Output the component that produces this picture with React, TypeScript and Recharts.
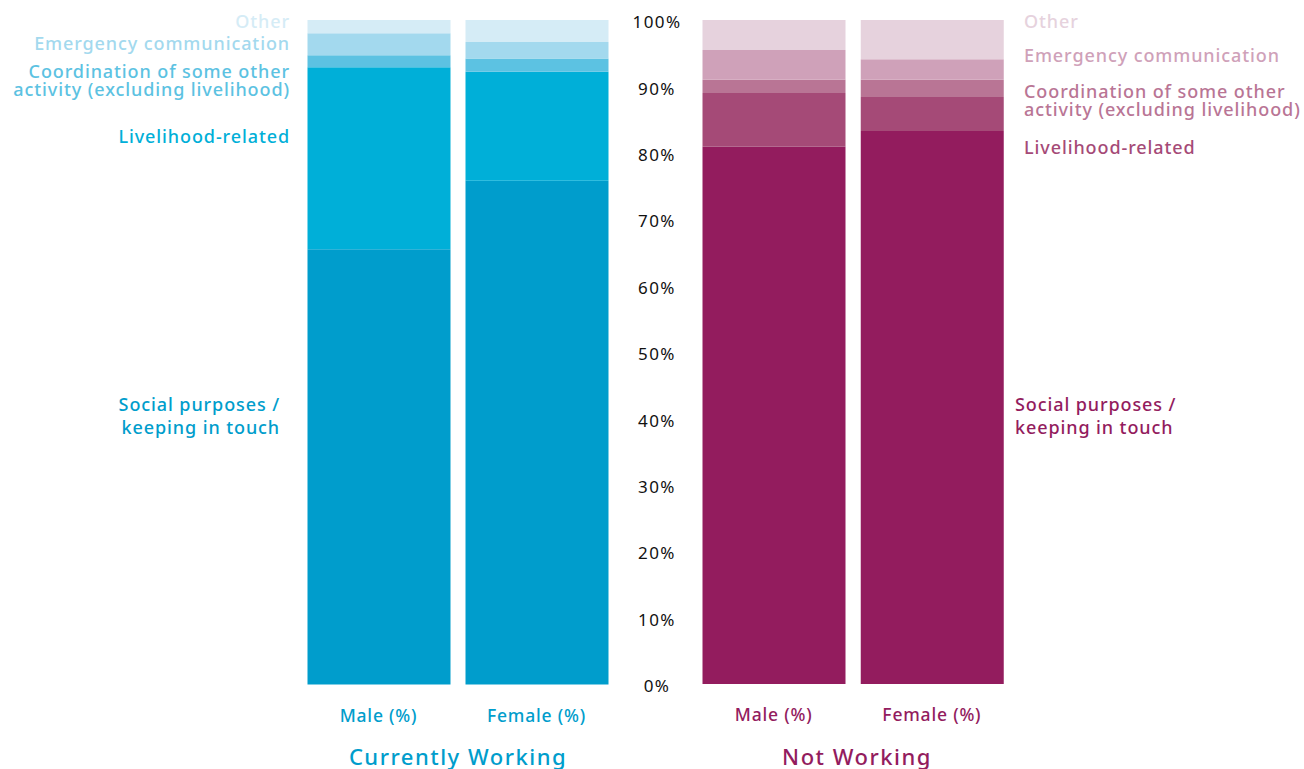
import React from "react";
import { BarChart, Bar, XAxis, YAxis } from "recharts";

const categories = ["Male (%)", "Female (%)"];
const seriesKeys = ["social", "livelihood", "coordination", "emergency", "other"];
const seriesNames = [
  ["Social purposes /", "keeping in touch"],
  ["Livelihood-related"],
  ["Coordination of some other", "activity (excluding livelihood)"],
  ["Emergency communication"],
  ["Other"],
];
const yTicks = [0, 10, 20, 30, 40, 50, 60, 70, 80, 90, 100];

// Currently working
const workingSocial = [65.5, 75.8];
const workingLivelihood = [27.4, 16.4];
const workingCoordination = [1.8, 2.0];
const workingEmergency = [3.3, 2.5];
const workingOther = [2.0, 3.3];

// Not working
const notWorkingSocial = [80.9, 83.3];
const notWorkingLivelihood = [8.1, 5.1];
const notWorkingCoordination = [2.0, 2.6];
const notWorkingEmergency = [4.5, 3.1];
const notWorkingOther = [4.5, 5.9];

const blues = ["#009dcc", "#00afd8", "#5cc2e2", "#a3d9ee", "#d5ecf6"];
const purples = ["#931c5e", "#a54a77", "#b97595", "#cfa1b9", "#e6d2dd"];

const FONT = "'Noto Sans', sans-serif";

const buildRows = (cols: number[][]) =>
  categories.map((name, i) => {
    const row: Record<string, string | number> = { name };
    seriesKeys.forEach((k, j) => (row[k] = cols[j][i]));
    return row;
  });

const workingData = buildRows([
  workingSocial,
  workingLivelihood,
  workingCoordination,
  workingEmergency,
  workingOther,
]);
const notWorkingData = buildRows([
  notWorkingSocial,
  notWorkingLivelihood,
  notWorkingCoordination,
  notWorkingEmergency,
  notWorkingOther,
]);

const CategoryTick = ({ x, y, payload, color }: any) => (
  <text
    x={x}
    y={y + 29}
    textAnchor="middle"
    fill={color}
    fontSize={17.5}
    fontWeight={500}
    letterSpacing={0.8}
    fontFamily={FONT}
  >
    {payload.value}
  </text>
);

const PercentTick = ({ x, y, payload }: any) => (
  <text
    x={x - 37.5}
    y={y + 2}
    dy="0.36em"
    textAnchor="middle"
    fill="#111"
    fontSize={17}
    letterSpacing={1.4}
    fontFamily={FONT}
  >
    {payload.value}%
  </text>
);

// y centres of each series label (first line), left and right side
const leftLabelY = [405, 137, 72, 44, 22];
const rightLabelY = [405, 148, 92, 56, 22];

const SeriesLabels = ({ side, colors, ys }: { side: "left" | "right"; colors: string[]; ys: number[] }) => (
  <svg width={1304} height={769} style={{ position: "absolute", left: 0, top: 0, pointerEvents: "none" }}>
    {seriesNames.map((lines, i) => {
      const x = side === "left" ? (i === 0 ? 280 : 290) : i === 0 ? 1015 : 1024;
      return (
        <text
          key={i}
          x={x}
          textAnchor={side === "left" ? "end" : "start"}
          fill={colors[i]}
          fontSize={18}
          fontWeight={500}
          letterSpacing={0.9}
          fontFamily={FONT}
        >
          {lines.map((l, k) => (
            <tspan key={k} x={x} y={ys[i] + k * (i === 0 ? 23 : 18)} dy="0.36em">
              {l}
            </tspan>
          ))}
        </text>
      );
    })}
  </svg>
);

const Title = ({ text, color, center }: { text: string; color: string; center: number }) => (
  <div
    style={{
      position: "absolute",
      left: center - 200,
      width: 400,
      top: 743,
      textAlign: "center",
      color,
      fontSize: 22,
      fontWeight: 500,
      letterSpacing: 1.5,
      fontFamily: FONT,
      lineHeight: "26px",
    }}
  >
    {text}
  </div>
);

export default function App() {
  return (
    <div style={{ position: "absolute", left: 0, top: 0, width: 1304, height: 769, background: "#fff", overflow: "hidden" }}>
      <div style={{ position: "absolute", left: 0, top: 0 }}>
        <BarChart
          width={620}
          height={769}
          data={workingData}
          margin={{ top: 20, right: 4.5, left: 299.5, bottom: 44.5 }}
          barSize={143}
        >
          <XAxis
            dataKey="name"
            axisLine={false}
            tickLine={false}
            height={40}
            tick={<CategoryTick color="#009dcc" />}
          />
          <YAxis hide domain={[0, 100]} ticks={yTicks} />
          {seriesKeys.map((k, i) => (
            <Bar key={k} dataKey={k} stackId="a" fill={blues[i]} isAnimationActive={false} />
          ))}
        </BarChart>
      </div>
      <div style={{ position: "absolute", left: 615, top: 0 }}>
        <BarChart
          width={689}
          height={769}
          data={notWorkingData}
          margin={{ top: 20, right: 293, left: 0, bottom: 45 }}
          barSize={143}
        >
          <XAxis
            dataKey="name"
            axisLine={false}
            tickLine={false}
            height={40}
            tick={<CategoryTick color="#931c5e" />}
          />
          <YAxis
            domain={[0, 100]}
            ticks={yTicks}
            width={79.5}
            axisLine={false}
            tickLine={false}
            tickSize={0}
            tickMargin={0}
            tick={<PercentTick />}
          />
          {seriesKeys.map((k, i) => (
            <Bar key={k} dataKey={k} stackId="a" fill={purples[i]} isAnimationActive={false} />
          ))}
        </BarChart>
      </div>
      <SeriesLabels side="left" colors={blues} ys={leftLabelY} />
      <SeriesLabels side="right" colors={purples} ys={rightLabelY} />
      <Title text="Currently Working" color="#009dcc" center={458} />
      <Title text="Not Working" color="#931c5e" center={857} />
    </div>
  );
}
